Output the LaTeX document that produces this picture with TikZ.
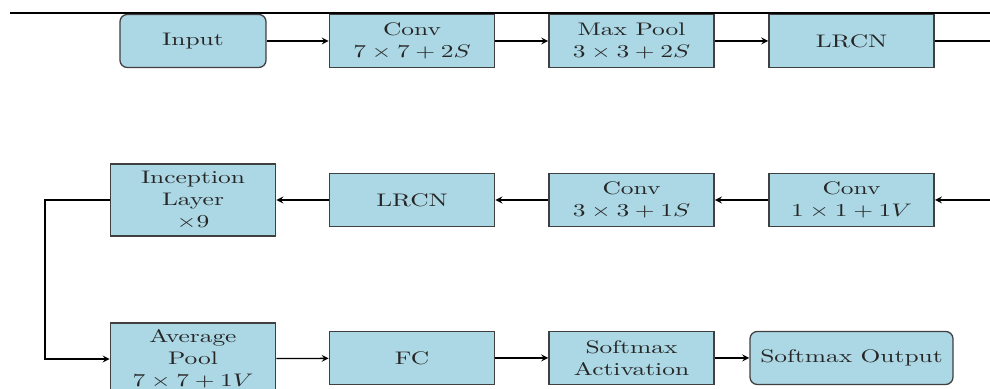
\documentclass[tikz,border=0pt]{standalone}
\definecolor{blockblue}{RGB}{172,215,228}
\tikzset{
    block/.style={draw=black!75,fill=blockblue,line width=0.7pt,align=center,
        minimum width=64.8pt,minimum height=29.15pt,inner sep=2pt,text=black!85},
    term/.style={block,rounded corners=4pt},
    tall/.style={block,minimum height=39.6pt}
}
\begin{document}
\begin{tikzpicture}[x=0.3929pt,y=-0.55pt,xscale=1.4,transform shape]
    \useasboundingbox (0,0) rectangle (990,389);
    \draw[line width=1pt] (10,13) -- (990,13);
    % first row
    \node[term,minimum width=57.4pt] (input) at (193,41) {Input};
    \node[block] (conv1) at (412,41) {Conv\\$7\times7+2S$};
    \node[block] (pool1) at (631.5,41) {Max Pool\\$3\times3+2S$};
    \node[block] (lrcn1) at (851.5,41) {LRCN};
    \coordinate (outR) at (990,41);
    % second row
    \coordinate (inR) at (990,200);
    \node[block] (conv2) at (851.5,200) {Conv\\$1\times1+1V$};
    \node[block] (conv3) at (631.5,200) {Conv\\$3\times3+1S$};
    \node[block] (lrcn2) at (412,200) {LRCN};
    \node[tall] (incep) at (193,200) {Inception\\Layer\\$\times9$};
    \coordinate (bend) at (45,200);
    % third row
    \node[tall] (avgpool) at (193,359) {Average\\Pool\\$7\times7+1V$};
    \node[block] (fc) at (412,358) {FC};
    \node[block] (smact) at (631.5,358) {Softmax\\Activation};
    \node[term,minimum width=79.75pt] (smout) at (851.5,358) {Softmax Output};
    \begin{scope}[line width=0.7pt]
        \draw[-stealth] (input) -- (conv1);
        \draw[-stealth] (conv1) -- (pool1);
        \draw[-stealth] (pool1) -- (lrcn1);
        \draw (lrcn1) -- (outR);
        \draw[-stealth] (inR) -- (conv2);
        \draw[-stealth] (conv2) -- (conv3);
        \draw[-stealth] (conv3) -- (lrcn2);
        \draw[-stealth] (lrcn2) -- (incep);
        \draw[-stealth] (incep.west) -- (bend) |- (avgpool.west);
        \draw[-stealth] (avgpool) -- (fc);
        \draw[-stealth] (fc) -- (smact);
        \draw[-stealth] (smact) -- (smout);
    \end{scope}
\end{tikzpicture}
\end{document}
